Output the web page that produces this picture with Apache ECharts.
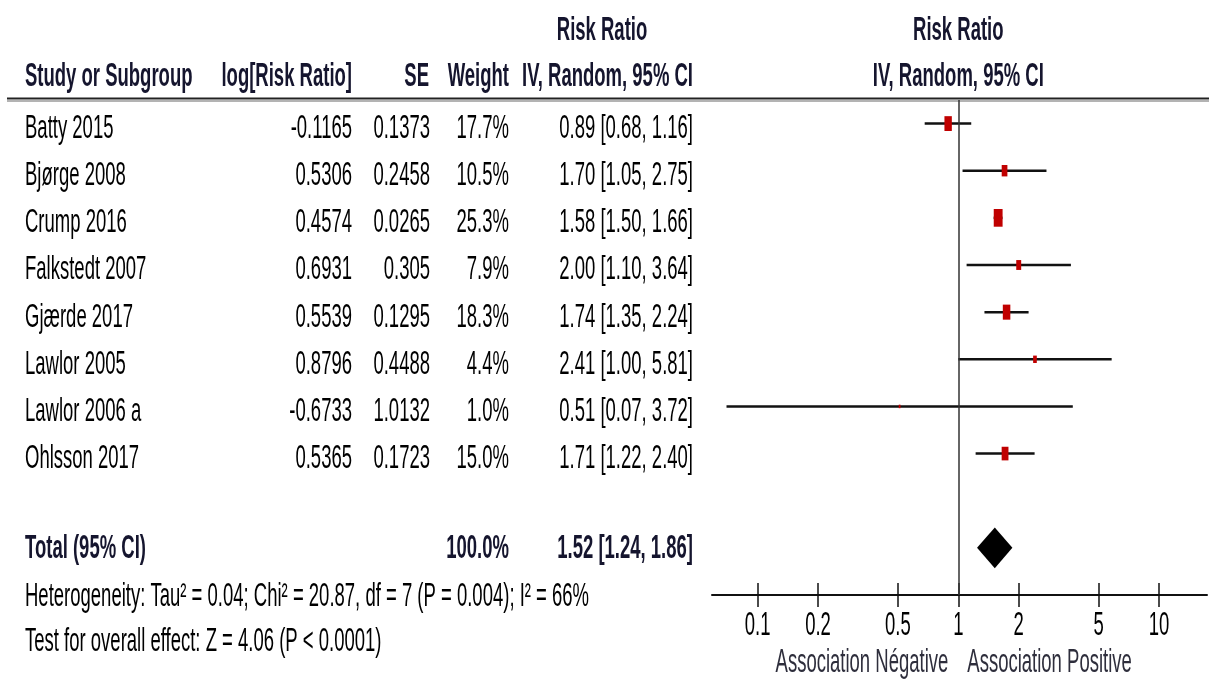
<!DOCTYPE html>
<html>
<head>
<meta charset="utf-8">
<script src="https://cdn.jsdelivr.net/npm/echarts@6/dist/echarts.min.js"></script>
<style>
html,body{margin:0;padding:0;background:#fff;}
#chart{width:1209px;height:682px;}
</style>
</head>
<body>
<div id="chart"></div>
<script>
// ---- data ----
const studies = ['Batty 2015', 'Bjørge 2008', 'Crump 2016', 'Falkstedt 2007', 'Gjærde 2017', 'Lawlor 2005', 'Lawlor 2006 a', 'Ohlsson 2017'];
const logRR = [-0.1165, 0.5306, 0.4574, 0.6931, 0.5539, 0.8796, -0.6733, 0.5365];
const se = [0.1373, 0.2458, 0.0265, 0.305, 0.1295, 0.4488, 1.0132, 0.1723];
const weights = [17.7, 10.5, 25.3, 7.9, 18.3, 4.4, 1.0, 15.0];
const rr = [0.89, 1.70, 1.58, 2.00, 1.74, 2.41, 0.51, 1.71];
const ciLow = [0.68, 1.05, 1.50, 1.10, 1.35, 1.00, 0.07, 1.22];
const ciHigh = [1.16, 2.75, 1.66, 3.64, 2.24, 5.81, 3.72, 2.40];
const totalLabel = 'Total (95% CI)';
const totalWeight = 100.0;
const totalRR = [1.52, 1.24, 1.86]; // estimate, low, high
const tickValues = [0.1, 0.2, 0.5, 1, 2, 5, 10];
const tickLabels = ['0.1', '0.2', '0.5', '1', '2', '5', '10'];
const heterogeneityText = 'Heterogeneity: Tau² = 0.04; Chi² = 20.87, df = 7 (P = 0.004); I² = 66%';
const overallText = 'Test for overall effect: Z = 4.06 (P < 0.0001)';
const leftFavour = 'Association Négative';
const rightFavour = 'Association Positive';

// ---- chart ----
const FONT = '"Liberation Sans", Arial, sans-serif';
const FS = 18.5;
const SY = 1.75;
const totalRow = 9;
const chart = echarts.init(document.getElementById('chart'), null, {renderer: 'canvas'});
const lg = v => Math.log10(v);
const tickLogs = tickValues.map(lg);

chart.setOption({
  animation: false,
  backgroundColor: '#ffffff',
  grid: {left: 712, width: 495, top: 100, height: 495, containLabel: false},
  xAxis: [{
    type: 'value', min: -1.2272, max: 1.2392, position: 'bottom',
    axisLine: {show: true, onZero: false, lineStyle: {color: '#111', width: 2}},
    axisTick: {show: true, customValues: tickLogs, length: 12, lineStyle: {color: '#111', width: 1.5}},
    axisLabel: {show: false},
    splitLine: {show: false}
  }, {
    type: 'value', min: -1.2272, max: 1.2392, position: 'bottom',
    axisLine: {show: false, onZero: false},
    axisTick: {show: true, inside: true, customValues: tickLogs, length: 12, lineStyle: {color: '#111', width: 1.5}},
    axisLabel: {show: false},
    splitLine: {show: false}
  }],
  yAxis: {type: 'value', inverse: true, min: -0.5, max: 10, show: false},
  series: [{
    type: 'custom',
    name: 'ci',
    silent: true,
    xAxisIndex: 0,
    encode: {x: [0, 1], y: 2},
    data: studies.map((s, i) => [lg(ciLow[i]), lg(ciHigh[i]), i]),
    renderItem: function (params, api) {
      const p1 = api.coord([api.value(0), api.value(2)]);
      const p2 = api.coord([api.value(1), api.value(2)]);
      return {type: 'line', shape: {x1: p1[0], y1: p1[1], x2: p2[0], y2: p2[1]},
        style: {stroke: '#111', lineWidth: 2.5}};
    },
    z: 2
  }, {
    type: 'scatter',
    name: 'studies',
    silent: true,
    xAxisIndex: 0,
    symbol: 'rect',
    itemStyle: {color: '#c00000', opacity: 1},
    data: studies.map((s, i) => {
      const h = 3.52 * Math.sqrt(weights[i]);
      return {value: [lg(rr[i]), i], symbolSize: [h * 0.5, h]};
    }),
    markLine: {
      silent: true, symbol: ['none', 'none'], label: {show: false},
      lineStyle: {color: '#333', width: 1.5, type: 'solid'},
      data: [{xAxis: 0}]
    },
    z: 3
  }, {
    type: 'custom',
    name: 'total',
    silent: true,
    xAxisIndex: 0,
    encode: {x: [0, 1, 2], y: 3},
    data: [[lg(totalRR[1]), lg(totalRR[0]), lg(totalRR[2]), totalRow]],
    renderItem: function (params, api) {
      const l = api.coord([api.value(0), api.value(3)]);
      const c = api.coord([api.value(1), api.value(3) - 0.43]);
      const r = api.coord([api.value(2), api.value(3)]);
      const b = api.coord([api.value(1), api.value(3) + 0.43]);
      return {type: 'polygon', shape: {points: [l, c, r, b]}, style: {fill: '#000'}};
    },
    z: 3
  }]
});

// ---- text table, drawn with positions taken from the axes ----
const rowY = i => chart.convertToPixel({yAxisIndex: 0}, i);
const colX = v => chart.convertToPixel({xAxisIndex: 0}, v);
const g = [];
function txt(t, x, y, align, bold, color) {
  g.push({
    type: 'text', x: x, y: y, scaleY: SY, silent: true, z: 10,
    style: {
      text: t, fill: color || '#000',
      font: (bold ? 'bold ' : '') + FS + 'px ' + FONT,
      align: align, verticalAlign: 'middle',
      textAlign: align, textVerticalAlign: 'middle'
    }
  });
}
const HEAD = '#15152e';
// headers
txt('Risk Ratio', 602, 31, 'center', true, HEAD);
txt('Study or Subgroup', 25, 77, 'left', true, HEAD);
txt('log[Risk Ratio]', 352, 77, 'right', true, HEAD);
txt('SE', 429, 77, 'right', true, HEAD);
txt('Weight', 509, 77, 'right', true, HEAD);
txt('IV, Random, 95% CI', 693, 77, 'right', true, HEAD);
const x1 = colX(0);
txt('Risk Ratio', x1, 31, 'center', true, HEAD);
txt('IV, Random, 95% CI', x1, 77, 'center', true, HEAD);
// study rows
studies.forEach((s, i) => {
  const y = rowY(i) + 5.5;
  txt(s, 25, y, 'left', false);
  txt(String(logRR[i]), 352, y, 'right', false);
  txt(String(se[i]), 430, y, 'right', false);
  txt(weights[i].toFixed(1) + '%', 509, y, 'right', false);
  txt(rr[i].toFixed(2) + ' [' + ciLow[i].toFixed(2) + ', ' + ciHigh[i].toFixed(2) + ']', 693, y, 'right', false);
});
// total row
const ty = rowY(totalRow) + 1.5;
txt(totalLabel, 25, ty, 'left', true, HEAD);
txt(totalWeight.toFixed(1) + '%', 509, ty, 'right', true, HEAD);
txt(totalRR[0].toFixed(2) + ' [' + totalRR[1].toFixed(2) + ', ' + totalRR[2].toFixed(2) + ']', 693, ty, 'right', true, HEAD);
txt(heterogeneityText, 25, 597, 'left', false);
txt(overallText, 25, 642, 'left', false);
// axis tick labels
tickValues.forEach((v, k) => {
  txt(tickLabels[k], colX(lg(v)), 626, 'center', false);
});
txt(leftFavour, x1 - 10, 663, 'right', false, '#2e2e3c');
txt(rightFavour, x1 + 9, 663, 'left', false, '#2e2e3c');
// header rule
g.push({type: 'line', silent: true, shape: {x1: 7, y1: 98.5, x2: 1209, y2: 98.5}, style: {stroke: '#222', lineWidth: 2}});
g.push({type: 'line', silent: true, shape: {x1: 7, y1: 101, x2: 1209, y2: 101}, style: {stroke: '#9a9a9a', lineWidth: 1.5}});

chart.setOption({graphic: {elements: g}});
</script>
</body>
</html>
